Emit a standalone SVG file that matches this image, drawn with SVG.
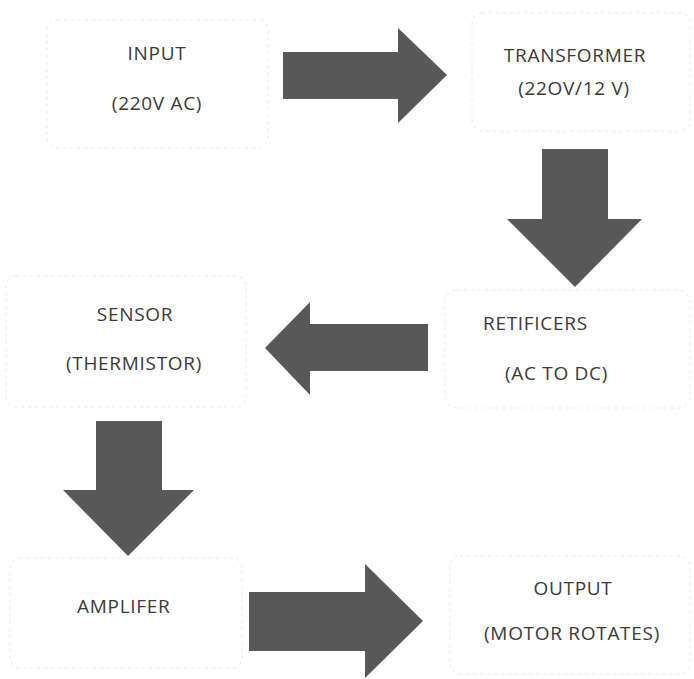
<svg xmlns="http://www.w3.org/2000/svg" width="694" height="679" viewBox="0 0 694 679">
  <style>
    .box { fill: none; stroke: #e9e9e9; stroke-width: 1; stroke-dasharray: 3 4; }
    .lbl { font-family: "Open Sans", "Noto Sans", "Liberation Sans", sans-serif; font-size: 19px; fill: #3a3a3a; letter-spacing: 0.7px; }
    .c { text-anchor: middle; }
    .arrow { fill: #585858; }
  </style>
  <rect width="694" height="679" fill="#ffffff"/>

  <g id="input">
    <rect class="box" x="47" y="20" width="221" height="128" rx="10"/>
    <text class="lbl c" x="157" y="60">INPUT</text>
    <text class="lbl c" x="157" y="110">(220V AC)</text>
  </g>

  <g id="transformer">
    <rect class="box" x="472" y="13" width="218" height="118" rx="10"/>
    <text class="lbl c" x="575" y="62">TRANSFORMER</text>
    <text class="lbl c" x="574" y="95">(22OV/12 V)</text>
  </g>

  <g id="sensor">
    <rect class="box" x="6" y="276" width="240" height="131" rx="10"/>
    <text class="lbl c" x="135" y="321">SENSOR</text>
    <text class="lbl c" x="134" y="370">(THERMISTOR)</text>
  </g>

  <g id="rectifiers">
    <rect class="box" x="445" y="290" width="245" height="118" rx="12"/>
    <text class="lbl" x="483" y="330">RETIFICERS</text>
    <text class="lbl" x="505" y="380">(AC TO DC)</text>
  </g>

  <g id="amplifier">
    <rect class="box" x="10" y="558" width="232" height="110" rx="10"/>
    <text class="lbl" x="77" y="613">AMPLIFER</text>
  </g>

  <g id="output">
    <rect class="box" x="450" y="556" width="240" height="118" rx="10"/>
    <text class="lbl c" x="573" y="595">OUTPUT</text>
    <text class="lbl c" x="572" y="640">(MOTOR ROTATES)</text>
  </g>

  <g id="connectors">
    <polygon class="arrow" points="283,52 398,52 398,28 447,75 398,123 398,99 283,99"/>
    <polygon class="arrow" points="542,149 608,149 608,219 642,219 575,287 507,219 542,219"/>
    <polygon class="arrow" points="428,324 310,324 310,302 265,348 310,395 310,371 428,371"/>
    <polygon class="arrow" points="96,421 162,421 162,490 194,490 128,556 63,490 96,490"/>
    <polygon class="arrow" points="249,592 365,592 365,564 423,621 365,678 365,651 249,651"/>
  </g>
</svg>
